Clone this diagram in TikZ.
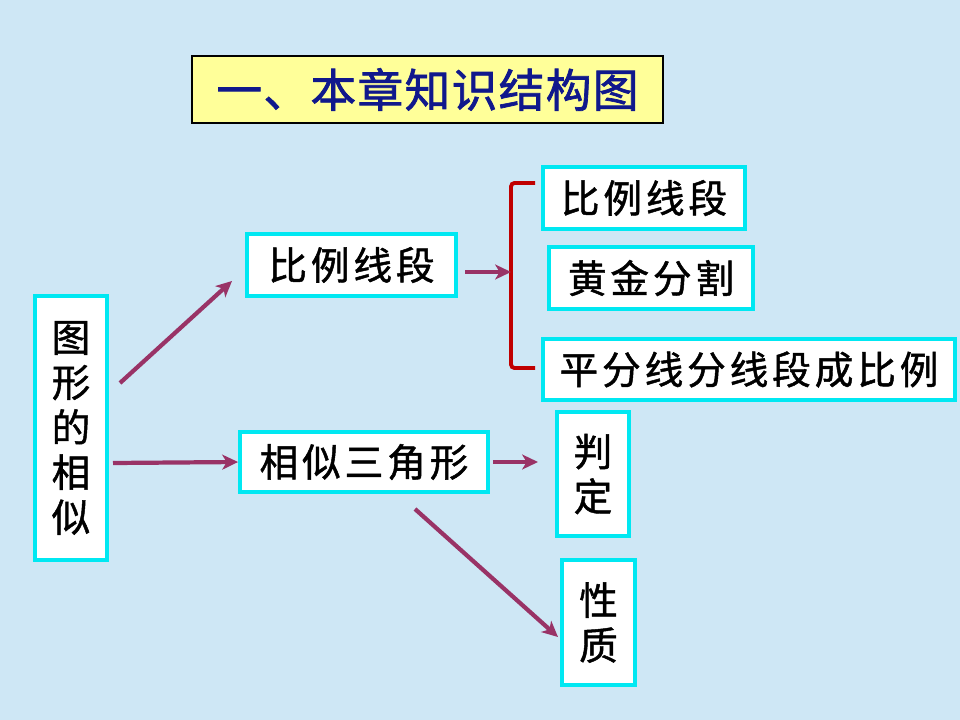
\documentclass[tikz,border=0pt]{standalone}
\usepackage{fontspec}
\newfontfamily\cjk[LetterSpace=10,FakeBold=1.2]{Noto Sans CJK SC}
\newfontfamily\cjktitle[LetterSpace=3,FakeBold=1.5]{Noto Sans CJK SC}
\usetikzlibrary{arrows.meta}
\definecolor{bgblue}{RGB}{206,231,245}
\definecolor{boxcyan}{RGB}{0,232,242}
\definecolor{arrpurple}{RGB}{153,51,102}
\definecolor{brkred}{RGB}{192,0,0}
\definecolor{titleyellow}{RGB}{255,255,153}
\definecolor{titleblue}{RGB}{16,24,140}
\tikzset{
  box/.style={draw=boxcyan,line width=2.2pt,fill=white,inner sep=0pt,align=center,
    font=\cjk\fontsize{22}{25.6}\selectfont},
  arr/.style={draw=arrpurple,line width=2.4pt,-{Stealth[length=9pt,width=8.5pt,inset=2.5pt]}},
  brk/.style={draw=brkred,line width=2.2pt,rounded corners=2pt}
}
\begin{document}
\begin{tikzpicture}[x=0.2mm,y=-0.2mm]
\fill[bgblue] (0,0) rectangle (960,720);
\useasboundingbox (0,0) rectangle (960,720);

\node[draw=black,line width=0.8pt,fill=titleyellow,minimum width=94.2mm,minimum height=13.4mm,
  font=\cjktitle\fontsize{26}{30}\selectfont,text=titleblue] (title) at (427.5,89.5) {一、本章知识结构图};

\node[box,minimum width=14.4mm,minimum height=52.8mm] (main) at (71,428) {图\\形\\的\\相\\似};
\node[box,minimum width=41.8mm,minimum height=12.4mm] (bili) at (351.5,265) {比例线段};
\node[box,minimum width=49.6mm,minimum height=12mm] (xiangsi) at (364,462) {相似三角形};
\node[box,minimum width=40.4mm,minimum height=12.4mm] (bili2) at (644,198) {比例线段};
\node[box,minimum width=40.8mm,minimum height=12.4mm] (huangjin) at (651,278) {黄金分割};
\node[box,minimum width=82.4mm,minimum height=12.2mm] (pingfen) at (749,369.5) {平分线分线段成比例};
\node[box,minimum width=14.4mm,minimum height=24.8mm] (panding) at (593,474) {判\\定};
\node[box,minimum width=14.6mm,minimum height=25mm] (xingzhi) at (598.5,622.5) {性\\质};

\coordinate (up1) at (120,383);
\coordinate (up2) at (232,281);
\coordinate (mid1) at (113,463);
\coordinate (bk1) at (465,272);
\coordinate (bk2) at (511,272);
\coordinate (pd) at (538,462);
\coordinate (dn1) at (415,509);
\coordinate (dn2) at (558,637);

\draw[brk] (535,183) -- (511,183) -- (511,368) -- (535,368);

\draw[arr] (up1) -- (up2);
\draw[arr] (mid1) -- (xiangsi.west);
\draw[arr] (bk1) -- (bk2);
\draw[arr,shorten <=1.7pt] (xiangsi.east) -- (pd);
\draw[arr] (dn1) -- (dn2);
\end{tikzpicture}
\end{document}
